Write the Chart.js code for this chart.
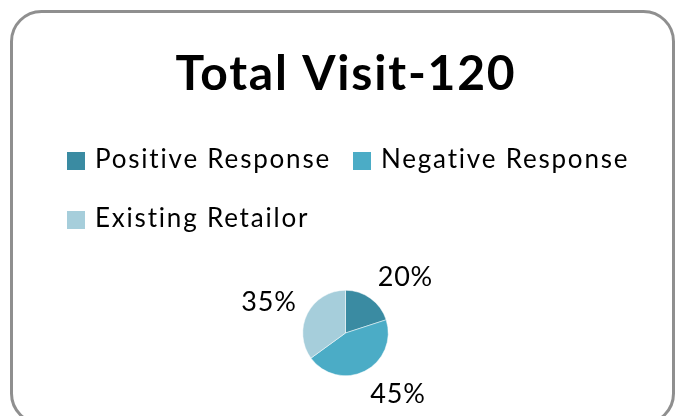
<!DOCTYPE html>
<html>
<head>
<meta charset="utf-8">
<title>Total Visit-120</title>
<script src="https://cdn.jsdelivr.net/npm/chart.js@4"></script>
<style>
  html, body { margin: 0; padding: 0; background: #fff; }
  #wrap { width: 675px; height: 416px; position: relative; }
</style>
</head>
<body>
<div id="wrap"><canvas id="myChart"></canvas></div>
<script>
// chart data
var categories = ['Positive Response', 'Negative Response', 'Existing Retailor'];
var shares = [20, 45, 35];
var sliceColours = ['#3a8ba2', '#4bacc6', '#a6cedb'];
var chartTitle = 'Total Visit-120';

var FONT = 'Lato, "Open Sans", sans-serif';

// rounded grey frame behind everything
var framePlugin = {
	id: 'frame',
	beforeDraw: function(chart) {
		var ctx = chart.ctx;
		ctx.save();
		ctx.fillStyle = '#fff';
		ctx.fillRect(0, 0, chart.width, chart.height);
		ctx.beginPath();
		ctx.roundRect(11.5, 11.5, 662, 412, 30);
		ctx.lineWidth = 3;
		ctx.strokeStyle = '#8f8f8f';
		ctx.stroke();
		ctx.restore();
	}
};

// big title, drawn by hand so the narrow pie padding does not squeeze it
var titlePlugin = {
	id: 'bigTitle',
	afterDraw: function(chart, args, opts) {
		var ctx = chart.ctx;
		ctx.save();
		ctx.font = 'bold ' + opts.fontSize + 'px ' + FONT;
		ctx.letterSpacing = opts.spacing + 'px';
		ctx.fillStyle = '#000';
		ctx.textAlign = 'center';
		ctx.textBaseline = 'alphabetic';
		ctx.fillText(opts.text, opts.x, opts.y);
		ctx.restore();
	}
};

// legend drawn left aligned, wrapping like the office one
var legendPlugin = {
	id: 'officeLegend',
	afterDraw: function(chart, args, opts) {
		var ctx = chart.ctx;
		var labels = chart.data.labels;
		var colours = chart.data.datasets[0].backgroundColor;
		ctx.save();
		ctx.font = opts.fontSize + 'px ' + FONT;
		ctx.letterSpacing = opts.letterSpacing + 'px';
		ctx.textBaseline = 'alphabetic';
		ctx.textAlign = 'left';
		var x = opts.left, y = opts.baseline;
		labels.forEach(function(lab, i) {
			var w = opts.box + opts.gap + ctx.measureText(lab).width;
			if (x + w > opts.right && x > opts.left) {
				x = opts.left;
				y += opts.rowHeight;
			}
			ctx.fillStyle = colours[i];
			ctx.fillRect(x, y - 16, opts.box, opts.box);
			ctx.fillStyle = '#000';
			ctx.fillText(lab, x + opts.box + opts.gap, y);
			x += w + opts.spacing;
		});
		ctx.restore();
	}
};

// percentage labels outside the slices
var percentPlugin = {
	id: 'percentLabels',
	afterDatasetsDraw: function(chart, args, opts) {
		var ctx = chart.ctx;
		var meta = chart.getDatasetMeta(0);
		var data = chart.data.datasets[0].data;
		var total = data.reduce(function(a, b) { return a + b; }, 0);
		ctx.save();
		ctx.font = opts.fontSize + 'px ' + FONT;
		ctx.letterSpacing = opts.letterSpacing + 'px';
		ctx.fillStyle = '#000';
		ctx.textAlign = 'center';
		ctx.textBaseline = 'middle';
		meta.data.forEach(function(arc, i) {
			var p = arc.getProps(['x', 'y', 'startAngle', 'endAngle', 'outerRadius'], true);
			var mid = (p.startAngle + p.endAngle) / 2;
			var dx = Math.cos(mid), dy = Math.sin(mid);
			var text = Math.round(data[i] / total * 100) + '%';
			var w = ctx.measureText(text).width;
			var h = opts.fontSize;
			var r = p.outerRadius + opts.gap;
			var cx = p.x + dx * r + Math.sign(dx) * w / 2;
			var cy = p.y + dy * r + dy * h / 2;
			ctx.fillText(text, cx, cy);
		});
		ctx.restore();
	}
};

var ctx = document.getElementById('myChart').getContext('2d');
var myChart = new Chart(ctx, {
	type: 'pie',
	data: {
		labels: categories,
		datasets: [{
			data: shares,
			backgroundColor: sliceColours,
			borderColor: '#fff',
			borderWidth: 0.5
		}]
	},
	options: {
		responsive: true,
		maintainAspectRatio: false,
		animation: false,
		layout: {
			padding: { left: 302, right: 286, top: 290, bottom: 40 }
		},
		plugins: {
			legend: { display: false },
			tooltip: { enabled: false },
			title: { display: false },
			bigTitle: { text: chartTitle, x: 346, y: 90, fontSize: 48, spacing: 1.8 },
			officeLegend: {
				left: 67, baseline: 168, right: 650, rowHeight: 59,
				box: 18, gap: 10, spacing: 22, fontSize: 26, letterSpacing: 1.8
			},
			percentLabels: { fontSize: 27, letterSpacing: 0.8, gap: 12 }
		}
	},
	plugins: [framePlugin, titlePlugin, legendPlugin, percentPlugin]
});
</script>
</body>
</html>
